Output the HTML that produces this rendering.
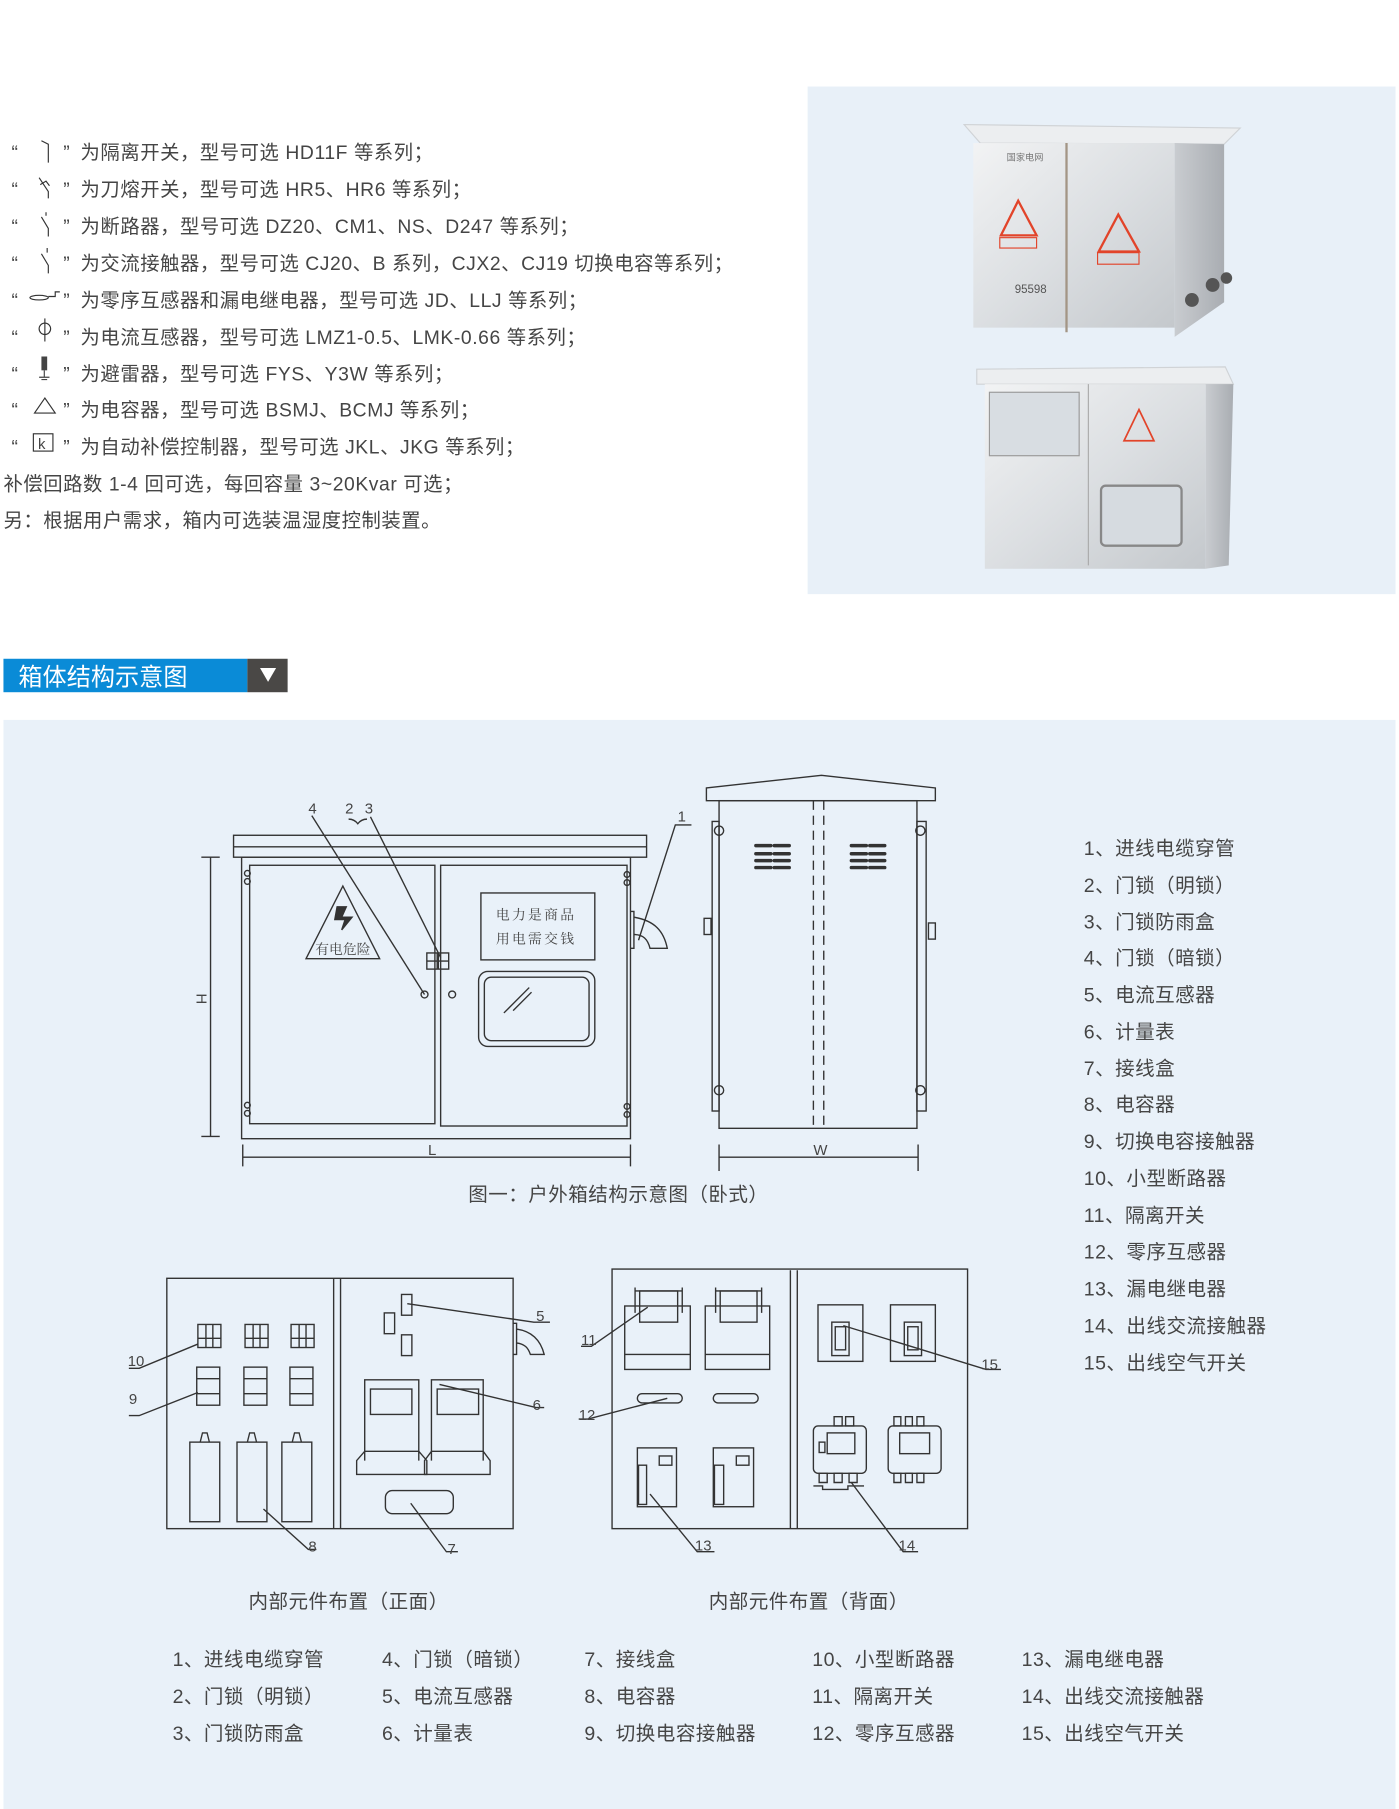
<!DOCTYPE html>
<html><head><meta charset="utf-8"><style>
html,body{margin:0;padding:0;background:#fff;}
svg{display:block;}
text{font-family:"Liberation Sans","Noto Sans CJK SC",sans-serif;fill:#454545;}
</style></head><body>
<svg width="1399" height="1809" viewBox="0 0 1216 1568" preserveAspectRatio="none" xmlns="http://www.w3.org/2000/svg">
<defs>
<linearGradient id="st" x1="0" x2="1" y1="0" y2="1"><stop offset="0" stop-color="#f2f3f4"/><stop offset="0.5" stop-color="#dcdfe2"/><stop offset="1" stop-color="#c4c8cc"/></linearGradient>
<linearGradient id="st2" x1="0" x2="1"><stop offset="0" stop-color="#c9ccd0"/><stop offset="1" stop-color="#a9adb2"/></linearGradient>
</defs>
<rect width="1216" height="1568" fill="#fff"/>
<!-- top legend -->
<g font-size="16.8" letter-spacing="0.5">
<text x="10" y="138">“</text><text x="55" y="138">”</text>
<path d="M36 122 l6 3 v16" stroke="#333" fill="none"/>
<text x="70" y="138">为隔离开关，型号可选 HD11F 等系列；</text>
<text x="10" y="170">“</text><text x="55" y="170">”</text>
<path d="M34 154 l8 12 v6 M35 160 l5 -3 l3 4" stroke="#333" fill="none"/>
<text x="70" y="170">为刀熔开关，型号可选 HR5、HR6 等系列；</text>
<text x="10" y="202">“</text><text x="55" y="202">”</text>
<path d="M36 188 l6 10 v7 M40 184 v3" stroke="#333" fill="none"/>
<text x="70" y="202">为断路器，型号可选 DZ20、CM1、NS、D247 等系列；</text>
<text x="10" y="234">“</text><text x="55" y="234">”</text>
<path d="M36 220 l6 10 v7 M41 215 v4" stroke="#333" fill="none"/>
<text x="70" y="234">为交流接触器，型号可选 CJ20、B 系列，CJX2、CJ19 切换电容等系列；</text>
<text x="10" y="266">“</text><text x="55" y="266">”</text>
<ellipse cx="34" cy="258" rx="8" ry="2" stroke="#333" fill="none"/><path d="M42 257 h6 v-4 h4" stroke="#333" fill="none"/>
<text x="70" y="266">为零序互感器和漏电继电器，型号可选 JD、LLJ 等系列；</text>
<text x="10" y="298">“</text><text x="55" y="298">”</text>
<circle cx="39" cy="285" r="5" stroke="#333" fill="none"/><path d="M39 276 v20" stroke="#333"/>
<text x="70" y="298">为电流互感器，型号可选 LMZ1-0.5、LMK-0.66 等系列；</text>
<text x="10" y="330">“</text><text x="55" y="330">”</text>
<rect x="36" y="309" width="5" height="12" fill="#444"/><path d="M38.5 321 v6 M34 327 h9 M36 329 h5" stroke="#444"/>
<text x="70" y="330">为避雷器，型号可选 FYS、Y3W 等系列；</text>
<text x="10" y="361">“</text><text x="55" y="361">”</text>
<path d="M39 345 l-9 13 h18 z" stroke="#333" fill="none"/>
<text x="70" y="361">为电容器，型号可选 BSMJ、BCMJ 等系列；</text>
<text x="10" y="393">“</text><text x="55" y="393">”</text>
<rect x="29" y="376" width="17" height="15" stroke="#333" fill="none"/><text x="33" y="389" font-size="13">k</text>
<text x="70" y="393">为自动补偿控制器，型号可选 JKL、JKG 等系列；</text>
<text x="3" y="425">补偿回路数 1-4 回可选，每回容量 3~20Kvar 可选；</text>
<text x="3" y="457">另：根据用户需求，箱内可选装温湿度控制装置。</text>
</g>
<!-- photo panel -->
<rect x="702" y="75" width="511" height="440" fill="#e8f0f8"/>
<polygon points="838,108 1078,111 1064,125 852,124" fill="#eceef0" stroke="#d0d3d6"/>
<rect x="846" y="124" width="175" height="160" fill="url(#st)"/>
<polygon points="1021,124 1064,125 1064,262 1021,292" fill="url(#st2)"/>
<line x1="927" y1="124" x2="927" y2="288" stroke="#a39585" stroke-width="2"/>
<polygon points="885,174 870,204 901,204" fill="none" stroke="#e2442a" stroke-width="2"/>
<rect x="869" y="206" width="32" height="9" fill="none" stroke="#e2442a"/>
<polygon points="972,186 955,218 990,218" fill="none" stroke="#e2442a" stroke-width="2"/>
<rect x="954" y="219" width="36" height="10" fill="none" stroke="#e2442a"/>
<text x="875" y="139" font-size="8" style="fill:#777">国家电网</text>
<text x="882" y="254" font-size="10" style="fill:#555">95598</text>
<circle cx="1036" cy="260" r="6" fill="#555"/><circle cx="1054" cy="247" r="6" fill="#555"/><circle cx="1066" cy="241" r="5" fill="#555"/>
<polygon points="849,320 1065,318 1072,333 849,333" fill="#eceef0" stroke="#d0d3d6"/>
<rect x="856" y="333" width="192" height="160" fill="url(#st)"/>
<polygon points="1048,333 1072,333 1068,490 1048,493" fill="url(#st2)"/>
<rect x="860" y="340" width="78" height="55" fill="#d8dde2" stroke="#999"/>
<line x1="946" y1="333" x2="946" y2="490" stroke="#aaa"/>
<rect x="957" y="421" width="70" height="52" rx="4" fill="#d6dbe0" stroke="#888" stroke-width="2"/>
<polygon points="990,355 977,382 1003,382" fill="none" stroke="#e2442a" stroke-width="1.5"/>
<!-- header bar -->
<rect x="3" y="571" width="212" height="29" fill="#0a8bd7"/>
<rect x="215" y="571" width="35" height="29" fill="#4a4846"/>
<text x="16" y="594" font-size="21" style="fill:#fff">箱体结构示意图</text>
<polygon points="226,579 240,579 233,591" fill="#fff"/>
<!-- diagram panel -->
<rect x="3" y="624" width="1210" height="944" fill="#e9f1f9"/>
<g stroke="#333" stroke-width="1.2" fill="none">
<rect x="203" y="724" width="359" height="19"/><line x1="203" y1="734" x2="562" y2="734"/>
<rect x="210" y="743" width="338" height="244"/>
<rect x="217" y="750" width="161" height="224"/>
<rect x="383" y="750" width="162" height="226"/>
<polygon points="298,768 266,831 330,831"/>
<polygon points="293,786 301,786 297,795 306,795 297,806 300,797 291,797" fill="#333"/>
<rect x="418" y="774" width="99" height="58"/>
<rect x="416" y="842" width="101" height="65" rx="8"/>
<rect x="421" y="847" width="91" height="55" rx="6"/>
<path d="M438 878 l22 -22 M446 876 l16 -16"/>
<rect x="371" y="826" width="9" height="14"/><rect x="381" y="826" width="9" height="14"/>
<path d="M371 833h9M381 833h9"/>
<circle cx="369" cy="862" r="3"/><circle cx="393" cy="862" r="3"/>
<circle cx="215" cy="757" r="2.5"/><circle cx="215" cy="764" r="2.5"/><circle cx="215" cy="958" r="2.5"/><circle cx="215" cy="965" r="2.5"/>
<circle cx="545" cy="758" r="2.5"/><circle cx="545" cy="765" r="2.5"/><circle cx="545" cy="959" r="2.5"/><circle cx="545" cy="966" r="2.5"/>
<path d="M548 790 h3 v32 h-3"/><path d="M551 795 c18 3 26 12 29 27 h-15 c-2 -8 -6 -12 -14 -12"/>
<path d="M175 743 h16 M183 743 v242 M175 985 h16"/>
<path d="M211 992 v19 M211 1003 h337 M548 992 v19"/>
<path d="M271 707 L369 862"/><path d="M322 708 L383 830"/><path d="M303 710 q5 0 8 4 q3 -4 8 -4"/>
<path d="M601 715 h-14 L555 815"/>
<polygon points="614,683 714,672 813,683 813,694 614,694"/>
<rect x="625" y="694" width="172" height="284"/>
<rect x="619" y="712" width="6" height="251"/><rect x="797" y="712" width="8" height="251"/>
<path d="M707 694 v282 M716 694 v282" stroke-dasharray="8 5"/>
<rect x="612" y="796" width="6" height="14"/><rect x="807" y="800" width="6" height="14"/>
<circle cx="625" cy="720" r="4"/><circle cx="625" cy="945" r="4"/><circle cx="800" cy="720" r="4"/><circle cx="800" cy="945" r="4"/>
<path d="M657 733h13M657 740h13M657 746h13M657 752h13M673 733h13M673 740h13M673 746h13M673 752h13M740 733h13M740 740h13M740 746h13M740 752h13M756 733h13M756 740h13M756 746h13M756 752h13" stroke-width="3" stroke-linecap="round"/>
<path d="M625 992 v23 M625 1003 h173 M798 992 v23"/>
<rect x="145" y="1108" width="301" height="217"/>
<path d="M290 1108 v217 M296 1108 v217"/>
<rect x="172" y="1148" width="20" height="20"/><rect x="213" y="1148" width="20" height="20"/><rect x="253" y="1148" width="20" height="20"/>
<path d="M172 1160h20M213 1160h20M253 1160h20M179 1148v20M185 1148v20M220 1148v20M226 1148v20M260 1148v20M266 1148v20"/>
<rect x="171" y="1185" width="20" height="33"/><rect x="212" y="1185" width="20" height="33"/><rect x="252" y="1185" width="20" height="33"/>
<path d="M171 1195h20M171 1208h20M212 1195h20M212 1208h20M252 1195h20M252 1208h20"/>
<rect x="165" y="1250" width="26" height="69"/><rect x="206" y="1250" width="26" height="69"/><rect x="245" y="1250" width="26" height="69"/>
<path d="M174 1250 l2 -8 h4 l2 8 M215 1250 l2 -8 h4 l2 8 M254 1250 l2 -8 h4 l2 8"/>
<rect x="349" y="1122" width="9" height="18"/><rect x="334" y="1138" width="9" height="18"/><rect x="349" y="1157" width="9" height="18"/>
<path d="M446 1147 h3 v27 h-3 M449 1152 c14 2 21 10 24 22 h-12 c-2 -6 -5 -9 -12 -10"/>
<path d="M317 1266 v-70 h47 v70 M310 1278 v-12 l7 -8 h47 l7 8 v12 z"/>
<rect x="322" y="1204" width="36" height="22"/>
<path d="M375 1266 v-70 h45 v70 M369 1278 v-12 l6 -8 h45 l6 8 v12 z"/>
<rect x="380" y="1204" width="36" height="22"/>
<rect x="335" y="1292" width="59" height="20" rx="6"/>
<path d="M112 1186 h9 L172 1165 M112 1227 h9 L172 1207 M275 1343 h-7 L229 1308 M478 1146 h-14 L354 1130 M473 1220 h-7 L382 1200 M398 1345 h-10 L357 1303"/>
<rect x="532" y="1100" width="309" height="225"/>
<path d="M687 1101 v224 M693 1101 v224"/>
<rect x="543" y="1132" width="57" height="55"/><rect x="556" y="1119" width="33" height="27"/><path d="M552 1116 v22 M593 1116 v22 M552 1119 h41 M543 1174 h57"/>
<rect x="613" y="1132" width="56" height="55"/><rect x="626" y="1119" width="32" height="27"/><path d="M622 1116 v22 M662 1116 v22 M622 1119 h40 M613 1174 h56"/>
<rect x="554" y="1208" width="39" height="8" rx="4"/><rect x="620" y="1208" width="39" height="8" rx="4"/>
<rect x="554" y="1255" width="34" height="51"/><rect x="555" y="1270" width="7" height="34"/><rect x="573" y="1262" width="11" height="8"/>
<rect x="620" y="1255" width="35" height="51"/><rect x="621" y="1270" width="8" height="34"/><rect x="640" y="1262" width="11" height="8"/>
<rect x="711" y="1131" width="39" height="49"/><rect x="723" y="1146" width="15" height="29"/><rect x="726" y="1150" width="9" height="20"/>
<rect x="774" y="1131" width="39" height="49"/><rect x="786" y="1146" width="15" height="29"/><rect x="789" y="1150" width="9" height="20"/>
<rect x="707" y="1236" width="46" height="41" rx="4"/><rect x="719" y="1242" width="24" height="18"/><rect x="712" y="1250" width="5" height="9"/>
<rect x="772" y="1236" width="46" height="41" rx="4"/><rect x="782" y="1242" width="26" height="18"/>
<path d="M725 1228h7v8h-7zM735 1228h7v8h-7zM712 1277h7v8h-7zM725 1277h7v8h-7zM738 1277h7v8h-7zM777 1228h6v8h-6zM787 1228h6v8h-6zM797 1228h6v8h-6zM777 1277h6v8h-6zM787 1277h6v8h-6zM797 1277h6v8h-6z"/>
<path d="M707 1288 h8 v3 h22 v-3 h14"/>
<path d="M505 1167 h9 L563 1133 M503 1230 h8 L580 1212 M621 1345 h-15 L565 1295 M798 1345 h-13 L740 1285 M870 1187 h-13 L733 1149"/>
</g>
<g font-size="13">
<text x="268" y="705">4</text><text x="300" y="705">2</text><text x="317" y="705">3</text><text x="589" y="712">1</text>
<text x="372" y="1001">L</text><text x="707" y="1001">W</text>
<text x="170" y="870" transform="rotate(90 175 866)">H</text>
<text x="111" y="1184">10</text><text x="112" y="1217">9</text><text x="268" y="1345">8</text>
<text x="466" y="1145">5</text><text x="463" y="1222">6</text><text x="389" y="1347">7</text>
<text x="505" y="1166">11</text><text x="503" y="1231">12</text><text x="604" y="1344">13</text><text x="781" y="1344">14</text><text x="853" y="1187">15</text>
</g>
<g font-size="12">
<text x="274" y="827" style="font-family:'Liberation Serif','Noto Serif CJK SC',serif">有电危险</text>
<text x="431" y="797" letter-spacing="2" style="font-family:'Liberation Serif','Noto Serif CJK SC',serif">电力是商品</text>
<text x="431" y="818" letter-spacing="2" style="font-family:'Liberation Serif','Noto Serif CJK SC',serif">用电需交钱</text>
</g>
<g font-size="17" letter-spacing="0.4">
<text x="407" y="1041">图一：户外箱结构示意图（卧式）</text>
<text x="216" y="1394">内部元件布置（正面）</text>
<text x="616" y="1394">内部元件布置（背面）</text>
<text x="942" y="741">1、进线电缆穿管</text>
<text x="942" y="773">2、门锁（明锁）</text>
<text x="942" y="805">3、门锁防雨盒</text>
<text x="942" y="836">4、门锁（暗锁）</text>
<text x="942" y="868">5、电流互感器</text>
<text x="942" y="900">6、计量表</text>
<text x="942" y="932">7、接线盒</text>
<text x="942" y="963">8、电容器</text>
<text x="942" y="995">9、切换电容接触器</text>
<text x="942" y="1027">10、小型断路器</text>
<text x="942" y="1059">11、隔离开关</text>
<text x="942" y="1091">12、零序互感器</text>
<text x="942" y="1123">13、漏电继电器</text>
<text x="942" y="1155">14、出线交流接触器</text>
<text x="942" y="1187">15、出线空气开关</text>
<text x="150" y="1444">1、进线电缆穿管</text><text x="150" y="1476">2、门锁（明锁）</text><text x="150" y="1508">3、门锁防雨盒</text>
<text x="332" y="1444">4、门锁（暗锁）</text><text x="332" y="1476">5、电流互感器</text><text x="332" y="1508">6、计量表</text>
<text x="508" y="1444">7、接线盒</text><text x="508" y="1476">8、电容器</text><text x="508" y="1508">9、切换电容接触器</text>
<text x="706" y="1444">10、小型断路器</text><text x="706" y="1476">11、隔离开关</text><text x="706" y="1508">12、零序互感器</text>
<text x="888" y="1444">13、漏电继电器</text><text x="888" y="1476">14、出线交流接触器</text><text x="888" y="1508">15、出线空气开关</text>
</g>
</svg>
</body></html>
